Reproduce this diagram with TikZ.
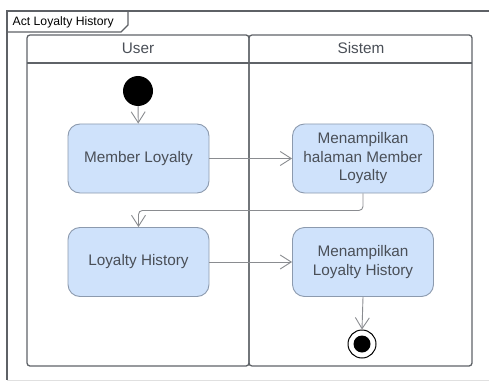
\documentclass[tikz,border=0pt]{standalone}
\usepackage{fontspec}
\setmainfont{Liberation Sans}
\usetikzlibrary{arrows.meta}
\definecolor{framegray}{HTML}{5E6166}
\definecolor{lanegray}{HTML}{5F6368}
\definecolor{boxfill}{HTML}{CFE2FB}
\definecolor{boxedge}{HTML}{8C9AAE}
\definecolor{txt}{HTML}{4A4F57}
\definecolor{flow}{HTML}{8A8C90}
\begin{document}
\begin{tikzpicture}[x=1pt,y=-1pt,
  action/.style={draw=boxedge, fill=boxfill, rounded corners=12pt,
    minimum width=141pt, minimum height=69pt, align=center, text=txt,
    font=\fontsize{15.3}{18.5}\selectfont, line width=0.9pt, inner sep=0pt},
  lanetitle/.style={text=txt, font=\fontsize{15.3}{18.5}\selectfont, inner sep=0pt},
  lane/.style={draw=lanegray, line width=1.3pt, rounded corners=3pt},
  flowline/.style={draw=flow, line width=0.9pt, -{Straight Barb[length=11pt,width=14pt,line width=0.9pt]}}]
\useasboundingbox (0,0) rectangle (489,382);

% activity frame and its name tab
\draw[framegray, line width=1.5pt] (489,11) -- (7,11) -- (7,380);
\draw[black!12, line width=1pt] (7,380) -- (489,380);
\draw[framegray, line width=1.3pt] (7,32) -- (121,32) -- (128,25) -- (128,11);
\node[anchor=west, inner sep=0pt, font=\fontsize{12.2}{14}\selectfont] (title) at (12.5,22) {Act Loyalty History};

% swimlanes
\draw[lane] (27,35) rectangle (249,366);
\draw[lane] (249,35) rectangle (472,366);
\draw[lanegray, line width=1.3pt] (27,63) -- (472,63);
\node[lanetitle] (user) at (138,48) {User};
\node[lanetitle] (sistem) at (361,48) {Sistem};

% nodes
\node[circle, fill=black, minimum size=30pt, inner sep=0pt] (start) at (138,91) {};
\node[action] (member) at (138.5,158.5) {Member Loyalty};
\node[action] (halaman) at (363,158.5) {Menampilkan\\halaman Member\\Loyalty};
\node[action] (history) at (138.5,262) {Loyalty History};
\node[action] (showhist) at (363,262) {Menampilkan\\Loyalty History};
\node[circle, draw=black, line width=1pt, fill=white, minimum size=28pt, inner sep=0pt] (end) at (362,344) {};
\node[circle, fill=black, minimum size=17pt, inner sep=0pt] (enddot) at (end) {};

% control flows
\draw[flowline] (start) -- (member);
\draw[flowline] (member) -- (halaman);
\draw[flowline, rounded corners=4pt] (halaman.south) -- ++(0,17) -| (history.north);
\draw[flowline] (history) -- (showhist);
\draw[flowline] (showhist.south) -- (end.north);
\end{tikzpicture}
\end{document}
